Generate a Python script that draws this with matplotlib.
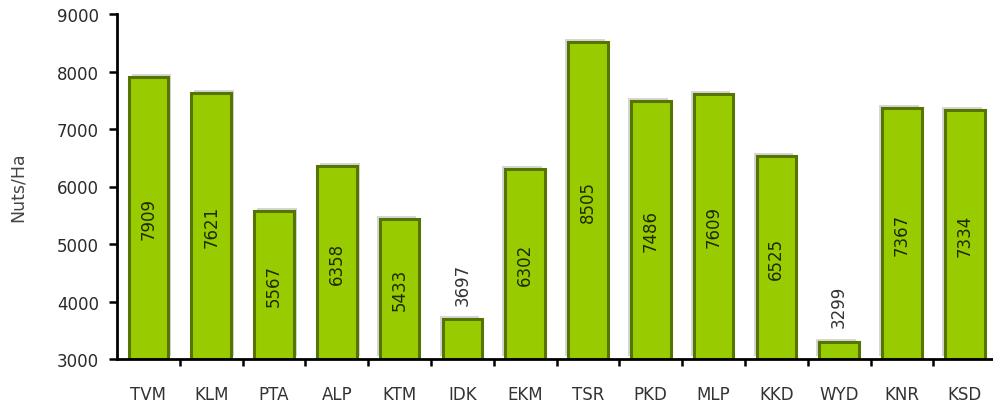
import matplotlib
matplotlib.use("Agg")
from matplotlib import pyplot as plt
from matplotlib import transforms
import numpy as np

districts = ["TVM", "KLM", "PTA", "ALP", "KTM", "IDK", "EKM",
             "TSR", "PKD", "MLP", "KKD", "WYD", "KNR", "KSD"]
nuts_per_ha = [7909, 7621, 5567, 6358, 5433, 3697, 6302,
               8505, 7486, 7609, 6525, 3299, 7367, 7334]
y_ticks = [3000, 4000, 5000, 6000, 7000, 8000, 9000]

plt.rcParams["font.family"] = ["DejaVu Sans"]

fig = plt.figure(figsize=(9.93, 4.06), dpi=100)
ax = fig.add_axes([117 / 993, 46 / 406, 876 / 993, 345 / 406])

x = np.arange(len(districts))
width = 0.63
base = y_ticks[0]

# grey drop shadow behind each bar, leaning away from the middle
for i, v in enumerate(nuts_per_ha):
    dx = 3 if i < 4 else -3
    shadow_tr = transforms.offset_copy(ax.transData, fig=fig, x=dx, y=3, units="dots")
    ax.bar(i, v - base, width, bottom=base, color="#d6d6d6",
           linewidth=0, transform=shadow_tr, zorder=1)

ax.bar(x, np.array(nuts_per_ha) - base, width, bottom=base, color="#99cc00",
       edgecolor="#557500", linewidth=2.2, zorder=2)

for i, v in enumerate(nuts_per_ha):
    if v - base > 1100:
        ax.text(i, (v + base) / 2, str(v), rotation=90, ha="center", va="center",
                fontsize=12, color="#1e2a00", zorder=3)
    else:
        ax.text(i, v + 250, str(v), rotation=90, ha="center", va="bottom",
                fontsize=12, color="#333333", zorder=3)

ax.set_xlim(-0.5, 13.45)
ax.set_ylim(y_ticks[0], y_ticks[-1])
ax.set_yticks(y_ticks)
ax.set_yticklabels([str(t) for t in y_ticks], fontsize=12, color="#2a2a2a")

ax.set_xticks(x)
ax.set_xticklabels(districts, fontsize=12, color="#333333")
ax.tick_params(axis="x", which="major", length=0, pad=19)
ax.set_xticks(x[:-1] + 0.5, minor=True)
ax.tick_params(axis="x", which="minor", length=5, width=1.8, color="black")
ax.tick_params(axis="y", length=6, width=1.8, pad=7)

ax.set_ylabel("Nuts/Ha", fontsize=12.5, color="#444444", labelpad=22)

for side in ["top", "right"]:
    ax.spines[side].set_visible(False)
for side in ["left", "bottom"]:
    ax.spines[side].set_linewidth(2)
    ax.spines[side].set_color("black")

fig.savefig("out.png", dpi=100)
